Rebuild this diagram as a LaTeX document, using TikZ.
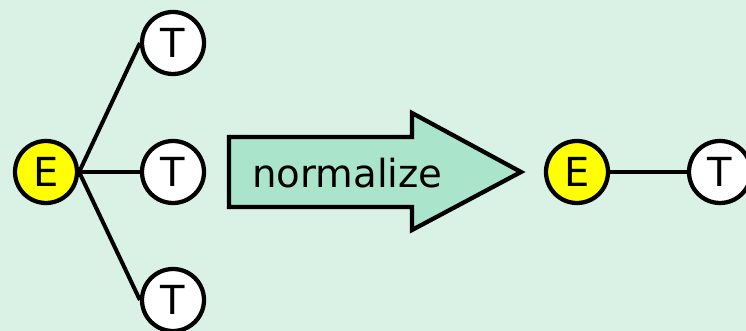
\documentclass[tikz,border=0pt]{standalone}
\usepackage{fontspec}
\setmainfont{DejaVu Sans}
\definecolor{bg}{RGB}{218,241,230}
\definecolor{arrowfill}{RGB}{170,228,203}
\definecolor{eyellow}{RGB}{255,255,0}
\begin{document}
\begin{tikzpicture}[x=0.75pt,y=-0.75pt,
  vert/.style={circle,draw=black,line width=3.2pt,minimum size=46.5pt,inner sep=0pt,font=\fontsize{30}{30}\selectfont},
  enode/.style={vert,fill=eyellow},
  tnode/.style={vert,fill=white},
  edge/.style={line width=3pt}]
\fill[bg] (0,0) rectangle (746,331);
\useasboundingbox (0,0) rectangle (746,331);
% left tree
\node[enode] (e1) at (46,172) {E};
\node[tnode] (t1) at (173,43) {T};
\node[tnode] (t2) at (173,172) {T};
\node[tnode] (t3) at (173,300) {T};
\draw[edge] (e1.east) -- (t1.west);
\draw[edge] (e1.east) -- (t2.west);
\draw[edge] (e1.east) -- (t3.west);
% arrow
\draw[line width=3.2pt,fill=arrowfill,line join=miter]
  (229,137) -- (412,137) -- (412,113) -- (521,172) -- (412,230) -- (412,207) -- (229,207) -- cycle;
\node[anchor=base west,inner sep=0pt,font=\fontsize{29}{29}\selectfont] (lbl) at (252,188) {normalize};
% right
\node[enode] (e2) at (577,172) {E};
\node[tnode] (t4) at (720,172) {T};
\draw[edge] (e2) -- (t4);
\end{tikzpicture}
\end{document}
